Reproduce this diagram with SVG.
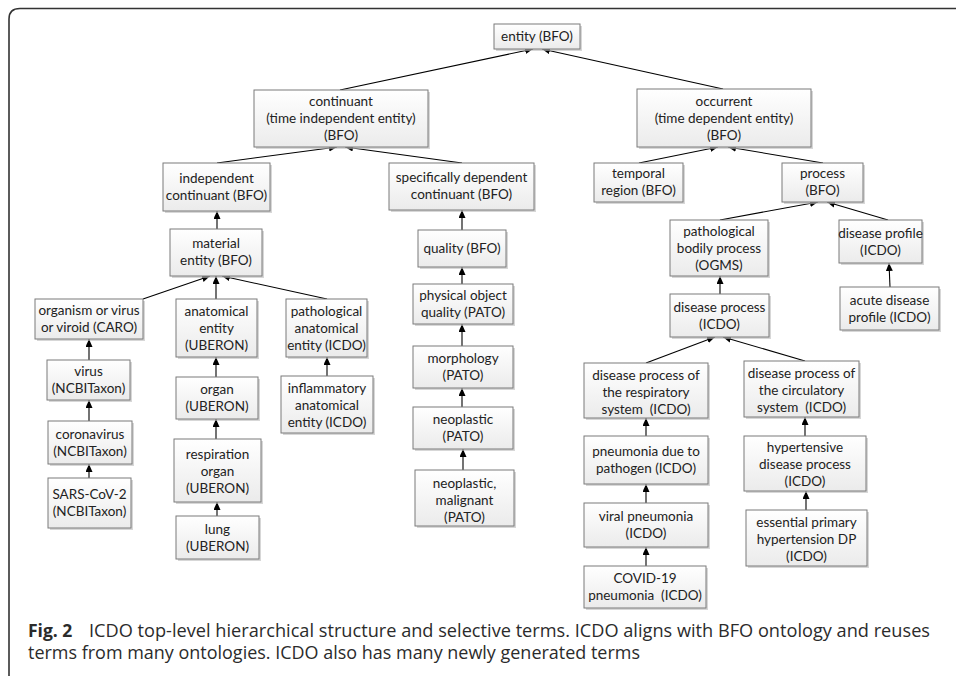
<svg xmlns="http://www.w3.org/2000/svg" width="956" height="676" viewBox="0 0 956 676">
<defs>
<linearGradient id="g" x1="0" y1="0" x2="0" y2="1">
<stop offset="0" stop-color="#ffffff"/>
<stop offset="1" stop-color="#ebebeb"/>
</linearGradient>
<marker id="ah" markerUnits="userSpaceOnUse" markerWidth="9" markerHeight="8" refX="8" refY="3.5" orient="auto">
<path d="M0,0 L8,3.5 L0,7 z" fill="#000"/>
</marker>
</defs>
<style>
.n rect.b{fill:url(#g);stroke:#7b7b7b;stroke-width:1}
.n rect.s{fill:#bdbdbd;opacity:0.6}
.n text{font-family:Lato,"Open Sans","Liberation Sans",sans-serif;font-size:13.5px;fill:#222;text-anchor:middle}
#edges line{stroke:#000;stroke-width:1.1;marker-end:url(#ah)}
.cap{font-family:"Open Sans","Noto Sans","Liberation Sans",sans-serif;font-size:17.5px;fill:#2b2b2b}
</style>
<rect width="956" height="676" fill="#fff"/>
<path d="M9,676 L9,19 Q9,8.5 20,8.5 L956,8.5" fill="none" stroke="#333" stroke-width="1.6"/>

<g id="edges">
<line x1="340" y1="90" x2="533" y2="49"/>
<line x1="723" y1="89" x2="542" y2="49"/>
<line x1="217" y1="163" x2="337" y2="147"/>
<line x1="462" y1="163" x2="345" y2="147"/>
<line x1="639" y1="163" x2="718" y2="147"/>
<line x1="823" y1="163" x2="728" y2="147"/>
<line x1="217" y1="229" x2="217" y2="211"/>
<line x1="462" y1="230" x2="462" y2="210"/>
<line x1="720" y1="220" x2="818" y2="202"/>
<line x1="888" y1="220" x2="827" y2="202"/>
<line x1="462" y1="284" x2="462" y2="267"/>
<line x1="720" y1="294" x2="720" y2="276"/>
<line x1="890" y1="287" x2="889" y2="263"/>
<line x1="143" y1="299" x2="210" y2="276"/>
<line x1="216" y1="299" x2="216" y2="276"/>
<line x1="327" y1="299" x2="222" y2="276"/>
<line x1="462" y1="346" x2="462" y2="324"/>
<line x1="89" y1="360" x2="89" y2="339"/>
<line x1="216" y1="377" x2="216" y2="357"/>
<line x1="327" y1="376" x2="327" y2="357"/>
<line x1="646" y1="363" x2="715" y2="337"/>
<line x1="805" y1="361" x2="723" y2="337"/>
<line x1="462" y1="407" x2="462" y2="388"/>
<line x1="89" y1="421" x2="89" y2="400"/>
<line x1="216" y1="439" x2="216" y2="419"/>
<line x1="646" y1="436" x2="646" y2="418"/>
<line x1="805" y1="436" x2="805" y2="417"/>
<line x1="463" y1="470" x2="463" y2="449"/>
<line x1="89" y1="478" x2="89" y2="464"/>
<line x1="646" y1="503" x2="646" y2="484"/>
<line x1="806" y1="510" x2="806" y2="491"/>
<line x1="217" y1="516" x2="217" y2="502"/>
<line x1="646" y1="566" x2="646" y2="547"/>
</g>

<g id="entity" class="n"><rect class="s" x="496" y="26" width="86" height="25"/><rect class="b" x="494" y="24" width="86" height="25"/><text x="537" y="41">entity (BFO)</text></g>
<g id="continuant" class="n"><rect class="s" x="256" y="92" width="174" height="57"/><rect class="b" x="254" y="90" width="174" height="57"/><text x="341" y="106">continuant</text><text x="341" y="123">(time independent entity)</text><text x="341" y="140">(BFO)</text></g>
<g id="occurrent" class="n"><rect class="s" x="639" y="91" width="174" height="58"/><rect class="b" x="637" y="89" width="174" height="58"/><text x="724" y="106">occurrent</text><text x="724" y="123">(time dependent entity)</text><text x="724" y="140">(BFO)</text></g>
<g id="independent-continuant" class="n"><rect class="s" x="165" y="165" width="107" height="48"/><rect class="b" x="163" y="163" width="107" height="48"/><text x="216.5" y="183">independent</text><text x="216.5" y="200">continuant (BFO)</text></g>
<g id="specifically-dependent-continuant" class="n"><rect class="s" x="391" y="165" width="145" height="47"/><rect class="b" x="389" y="163" width="145" height="47"/><text x="461.5" y="182">specifically dependent</text><text x="461.5" y="199">continuant (BFO)</text></g>
<g id="temporal-region" class="n"><rect class="s" x="596" y="165" width="89" height="39"/><rect class="b" x="594" y="163" width="89" height="39"/><text x="638.5" y="178">temporal</text><text x="638.5" y="195">region (BFO)</text></g>
<g id="process" class="n"><rect class="s" x="784" y="165" width="81" height="39"/><rect class="b" x="782" y="163" width="81" height="39"/><text x="822.5" y="178">process</text><text x="822.5" y="195">(BFO)</text></g>
<g id="material-entity" class="n"><rect class="s" x="172" y="231" width="92" height="47"/><rect class="b" x="170" y="229" width="92" height="47"/><text x="216" y="248">material</text><text x="216" y="265">entity (BFO)</text></g>
<g id="quality" class="n"><rect class="s" x="420" y="232" width="88" height="37"/><rect class="b" x="418" y="230" width="88" height="37"/><text x="462" y="253">quality (BFO)</text></g>
<g id="pathological-bodily-process" class="n"><rect class="s" x="672" y="222" width="98" height="56"/><rect class="b" x="670" y="220" width="98" height="56"/><text x="719" y="236">pathological</text><text x="719" y="253">bodily process</text><text x="719" y="270">(OGMS)</text></g>
<g id="disease-profile" class="n"><rect class="s" x="841" y="222" width="83" height="43"/><rect class="b" x="839" y="220" width="83" height="43"/><text x="880.5" y="238">disease profile</text><text x="880.5" y="255">(ICDO)</text></g>
<g id="physical-object-quality" class="n"><rect class="s" x="415" y="286" width="100" height="40"/><rect class="b" x="413" y="284" width="100" height="40"/><text x="463" y="300">physical object</text><text x="463" y="317">quality (PATO)</text></g>
<g id="disease-process" class="n"><rect class="s" x="672" y="296" width="99" height="43"/><rect class="b" x="670" y="294" width="99" height="43"/><text x="719.5" y="312">disease process</text><text x="719.5" y="329">(ICDO)</text></g>
<g id="acute-disease-profile" class="n"><rect class="s" x="842" y="289" width="99" height="43"/><rect class="b" x="840" y="287" width="99" height="43"/><text x="889.5" y="305">acute disease</text><text x="889.5" y="322">profile (ICDO)</text></g>
<g id="organism" class="n"><rect class="s" x="37" y="301" width="108" height="40"/><rect class="b" x="35" y="299" width="108" height="40"/><text x="89" y="315">organism or virus</text><text x="89" y="332">or viroid (CARO)</text></g>
<g id="anatomical-entity" class="n"><rect class="s" x="178" y="301" width="81" height="58"/><rect class="b" x="176" y="299" width="81" height="58"/><text x="216.5" y="316">anatomical</text><text x="216.5" y="333">entity</text><text x="216.5" y="350">(UBERON)</text></g>
<g id="pathological-anatomical-entity" class="n"><rect class="s" x="288" y="301" width="81" height="58"/><rect class="b" x="286" y="299" width="81" height="58"/><text x="326.5" y="316">pathological</text><text x="326.5" y="333">anatomical</text><text x="326.5" y="350">entity (ICDO)</text></g>
<g id="morphology" class="n"><rect class="s" x="415" y="348" width="100" height="42"/><rect class="b" x="413" y="346" width="100" height="42"/><text x="463" y="363">morphology</text><text x="463" y="380">(PATO)</text></g>
<g id="virus" class="n"><rect class="s" x="49" y="362" width="83" height="40"/><rect class="b" x="47" y="360" width="83" height="40"/><text x="88.5" y="376">virus</text><text x="88.5" y="393">(NCBITaxon)</text></g>
<g id="organ" class="n"><rect class="s" x="178" y="379" width="82" height="42"/><rect class="b" x="176" y="377" width="82" height="42"/><text x="217" y="394">organ</text><text x="217" y="411">(UBERON)</text></g>
<g id="inflammatory-anatomical-entity" class="n"><rect class="s" x="283" y="378" width="92" height="57"/><rect class="b" x="281" y="376" width="92" height="57"/><text x="327" y="393">inflammatory</text><text x="327" y="410">anatomical</text><text x="327" y="427">entity (ICDO)</text></g>
<g id="disease-process-respiratory" class="n"><rect class="s" x="586" y="365" width="124" height="55"/><rect class="b" x="584" y="363" width="124" height="55"/><text x="646" y="380">disease process of</text><text x="646" y="397">the respiratory</text><text x="646" y="414" xml:space="preserve">system  (ICDO)</text></g>
<g id="disease-process-circulatory" class="n"><rect class="s" x="746" y="363" width="115" height="56"/><rect class="b" x="744" y="361" width="115" height="56"/><text x="801.5" y="378">disease process of</text><text x="801.5" y="395">the circulatory</text><text x="801.5" y="412" xml:space="preserve">system  (ICDO)</text></g>
<g id="neoplastic" class="n"><rect class="s" x="415" y="409" width="100" height="42"/><rect class="b" x="413" y="407" width="100" height="42"/><text x="463" y="424">neoplastic</text><text x="463" y="441">(PATO)</text></g>
<g id="coronavirus" class="n"><rect class="s" x="50" y="423" width="84" height="43"/><rect class="b" x="48" y="421" width="84" height="43"/><text x="90" y="439">coronavirus</text><text x="90" y="456">(NCBITaxon)</text></g>
<g id="respiration-organ" class="n"><rect class="s" x="176" y="441" width="87" height="63"/><rect class="b" x="174" y="439" width="87" height="63"/><text x="217.5" y="459">respiration</text><text x="217.5" y="476">organ</text><text x="217.5" y="493">(UBERON)</text></g>
<g id="pneumonia-due-to-pathogen" class="n"><rect class="s" x="586" y="438" width="124" height="48"/><rect class="b" x="584" y="436" width="124" height="48"/><text x="646" y="456">pneumonia due to</text><text x="646" y="473">pathogen (ICDO)</text></g>
<g id="hypertensive-disease-process" class="n"><rect class="s" x="746" y="438" width="122" height="55"/><rect class="b" x="744" y="436" width="122" height="55"/><text x="805" y="452">hypertensive</text><text x="805" y="469">disease process</text><text x="805" y="486">(ICDO)</text></g>
<g id="neoplastic-malignant" class="n"><rect class="s" x="417" y="472" width="99" height="56"/><rect class="b" x="415" y="470" width="99" height="56"/><text x="464.5" y="488">neoplastic,</text><text x="464.5" y="505">malignant</text><text x="464.5" y="522">(PATO)</text></g>
<g id="sars-cov-2" class="n"><rect class="s" x="50" y="480" width="83" height="50"/><rect class="b" x="48" y="478" width="83" height="50"/><text x="89.5" y="499">SARS-CoV-2</text><text x="89.5" y="516">(NCBITaxon)</text></g>
<g id="viral-pneumonia" class="n"><rect class="s" x="586" y="505" width="124" height="44"/><rect class="b" x="584" y="503" width="124" height="44"/><text x="646" y="521">viral pneumonia</text><text x="646" y="538">(ICDO)</text></g>
<g id="essential-primary-hypertension" class="n"><rect class="s" x="748" y="512" width="121" height="56"/><rect class="b" x="746" y="510" width="121" height="56"/><text x="806.5" y="527">essential primary</text><text x="806.5" y="544">hypertension DP</text><text x="806.5" y="561">(ICDO)</text></g>
<g id="lung" class="n"><rect class="s" x="178" y="518" width="83" height="43"/><rect class="b" x="176" y="516" width="83" height="43"/><text x="217.5" y="534">lung</text><text x="217.5" y="551">(UBERON)</text></g>
<g id="covid-19-pneumonia" class="n"><rect class="s" x="586" y="568" width="122" height="42"/><rect class="b" x="584" y="566" width="122" height="42"/><text x="645" y="583">COVID-19</text><text x="645" y="600" xml:space="preserve">pneumonia  (ICDO)</text></g>

<text class="cap" x="28" y="637" font-weight="bold" font-size="18px">Fig. 2</text>
<text class="cap" x="89" y="637" textLength="841" lengthAdjust="spacingAndGlyphs">ICDO top-level hierarchical structure and selective terms. ICDO aligns with BFO ontology and reuses</text>
<text class="cap" x="28" y="659" textLength="612" lengthAdjust="spacingAndGlyphs">terms from many ontologies. ICDO also has many newly generated terms</text>
</svg>
